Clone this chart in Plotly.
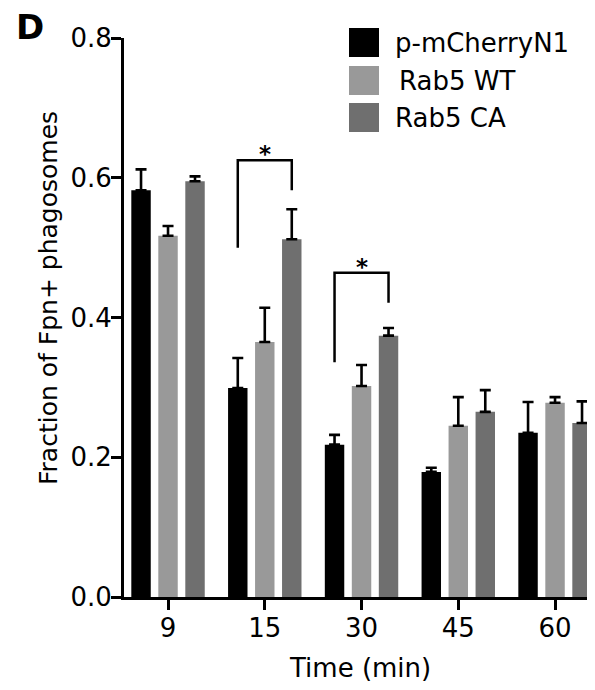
import plotly.graph_objects as go

# ---- data ----
times = ["9", "15", "30", "45", "60"]
series_names = ["p-mCherryN1", "Rab5 WT", "Rab5 CA"]
mcherry_mean = [0.582, 0.299, 0.218, 0.179, 0.235]
mcherry_err = [0.030, 0.043, 0.014, 0.006, 0.044]
wt_mean = [0.517, 0.365, 0.302, 0.245, 0.278]
wt_err = [0.014, 0.049, 0.030, 0.041, 0.008]
ca_mean = [0.595, 0.512, 0.374, 0.265, 0.249]
ca_err = [0.007, 0.043, 0.011, 0.031, 0.031]
y_ticks = [0.0, 0.2, 0.4, 0.6, 0.8]

# significance brackets: (category index, left-bar bottom, right-bar bottom, top)
brackets = [(1, 0.500, 0.582, 0.625), (2, 0.336, 0.421, 0.464)]

colors = ["#000000", "#999999", "#6f6f6f"]
FONT = "DejaVu Sans, Liberation Sans, Arial, sans-serif"

# page layout (browser body has an 8px default margin)
OFF = 8
PAGE_W, PAGE_H = 595, 690
PLOT_L, PLOT_R, PLOT_T, PLOT_B = 124, 595, 38, 597  # page pixels of plot area
W, H = PAGE_W - OFF, PAGE_H - OFF
ML, MT = PLOT_L - OFF, PLOT_T - OFF
MR = W - (PLOT_R - OFF)
MB = H - (PLOT_B - OFF)
PW, PH = PLOT_R - PLOT_L, PLOT_B - PLOT_T

bargap = 0.163
bargroupgap = 0.28
slot = (1 - bargap) / 3  # category units per bar slot

fig = go.Figure()
means = [mcherry_mean, wt_mean, ca_mean]
errs = [mcherry_err, wt_err, ca_err]
for name, m, e, c in zip(series_names, means, errs, colors):
    fig.add_trace(go.Bar(
        x=times, y=m, name=name, marker=dict(color=c, line=dict(width=0)),
        error_y=dict(type="data", symmetric=False, array=e,
                     arrayminus=[0] * len(e), color="#000000",
                     thickness=2.6, width=5.5),
        showlegend=False,
    ))

shapes = []
annotations = []
for idx, lb, rb, top in brackets:
    xl = idx - slot
    xr = idx + slot
    shapes.append(dict(type="path", xref="x", yref="y",
                       path=f"M {xl},{lb} L {xl},{top} L {xr},{top} L {xr},{rb}",
                       line=dict(color="#000000", width=2.5)))
    annotations.append(dict(x=idx, y=top, xref="x", yref="y", text="<b>*</b>",
                            showarrow=False, yanchor="bottom", yshift=-9,
                            font=dict(family=FONT, size=23, color="#000000")))


def px_x(px):
    return (px - PLOT_L) / PW


def px_y(py):
    return (PLOT_B - py) / PH


# manual legend
leg_tops = [28, 66, 103]
leg_text_x = [393, 397, 393]
leg_labels = ["p-mCherryN1", "Rab5 WT", "Rab5 CA"]
for top, c, lab, tx in zip(leg_tops, colors, leg_labels, leg_text_x):
    shapes.append(dict(type="rect", xref="paper", yref="paper",
                       x0=px_x(349), x1=px_x(379), y0=px_y(top + 29), y1=px_y(top),
                       fillcolor=c, line=dict(width=0)))
    annotations.append(dict(x=px_x(tx), y=px_y(top + 15), xref="paper", yref="paper",
                            text=lab, showarrow=False, xanchor="left", yanchor="middle",
                            font=dict(family=FONT, size=26, color="#000000")))

# panel letter
annotations.append(dict(x=px_x(30), y=px_y(27), xref="paper", yref="paper", text="<b>D</b>",
                        showarrow=False, xanchor="center", yanchor="middle",
                        font=dict(family=FONT, size=34, color="#000000")))
# y title
annotations.append(dict(x=px_x(48), y=px_y(298), xref="paper", yref="paper",
                        text="Fraction of Fpn+ phagosomes", textangle=-90,
                        showarrow=False, xanchor="center", yanchor="middle",
                        font=dict(family=FONT, size=25, color="#000000")))
# x title
annotations.append(dict(x=px_x(360), y=px_y(668), xref="paper", yref="paper",
                        text="Time (min)", showarrow=False,
                        xanchor="center", yanchor="middle",
                        font=dict(family=FONT, size=26, color="#000000")))

fig.update_layout(
    width=W, height=H,
    margin=dict(l=ML, r=MR, t=MT, b=MB, pad=0),
    paper_bgcolor="white", plot_bgcolor="white",
    barmode="group", bargap=bargap, bargroupgap=bargroupgap,
    font=dict(family=FONT, size=26, color="#000000"),
    shapes=shapes, annotations=annotations,
    xaxis=dict(type="category", range=[-0.455, 4.413],
               showline=True, linecolor="#000000", linewidth=3,
               ticks="outside", ticklen=10, tickwidth=3, tickcolor="#000000",
               showgrid=False, zeroline=False, ticklabelstandoff=-4,
               tickfont=dict(family=FONT, size=26)),
    yaxis=dict(range=[0, 0.8], tickvals=y_ticks, tickformat=".1f",
               showline=True, linecolor="#000000", linewidth=3,
               ticks="outside", ticklen=10, tickwidth=3, tickcolor="#000000",
               showgrid=False, zeroline=False, ticklabelstandoff=-6,
               tickfont=dict(family=FONT, size=26)),
)

fig.write_html("out.html")
